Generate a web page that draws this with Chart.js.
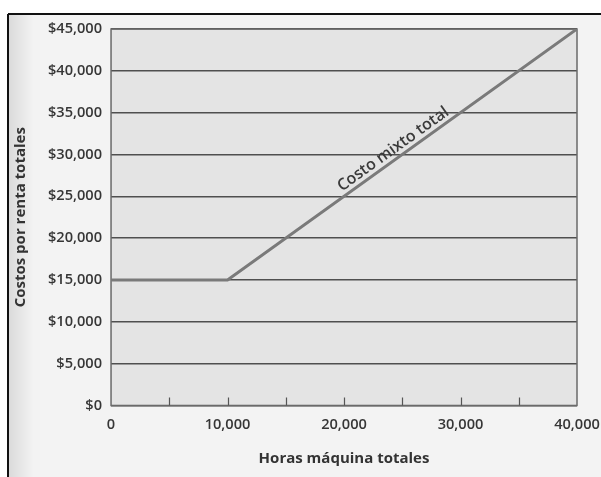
<!DOCTYPE html>
<html>
<head>
<meta charset="utf-8">
<script src="https://cdn.jsdelivr.net/npm/chart.js@4/dist/chart.umd.min.js"></script>
<style>
  html, body { margin: 0; padding: 0; background: #fff; }
  #wrap { position: absolute; left: 0; top: 0; width: 601px; height: 477px; }
</style>
</head>
<body>
<div id="wrap"><canvas id="grafica" width="601" height="477"></canvas></div>
<script>
// Costo mixto: fijo hasta 10,000 horas, luego crece con las horas máquina
const horasMaquina = [0, 10000, 40000];
const costoMixto = [15000, 15000, 45000];
const nombreSerie = 'Costo mixto total';
const tituloX = 'Horas máquina totales';
const tituloY = 'Costos por renta totales';
const etiquetasX = [0, 10000, 20000, 30000, 40000];

const fmt = v => v.toLocaleString('en-US');

// Fondo de la figura, marco y área del gráfico
const fondo = {
  id: 'fondo',
  beforeDraw(chart) {
    const { ctx, width, height, chartArea: a } = chart;
    ctx.save();
    ctx.fillStyle = '#ffffff';
    ctx.fillRect(0, 0, width, height);
    ctx.fillStyle = '#f3f3f3';
    ctx.fillRect(8, 14, width - 8, height - 14);
    const g = ctx.createLinearGradient(9, 0, 34, 0);
    g.addColorStop(0, 'rgba(0,0,0,0.10)');
    g.addColorStop(1, 'rgba(0,0,0,0)');
    ctx.fillStyle = g;
    ctx.fillRect(9, 15, 25, height - 15);
    ctx.strokeStyle = '#111';
    ctx.lineWidth = 2;
    ctx.beginPath();
    ctx.moveTo(8, 14); ctx.lineTo(width, 14);
    ctx.moveTo(8, 14); ctx.lineTo(8, height);
    ctx.stroke();
    ctx.fillStyle = '#e4e4e4';
    ctx.fillRect(a.left, a.top, a.right - a.left, a.bottom - a.top);
    ctx.restore();
  },
  beforeDatasetsDraw(chart) {
    const { ctx, chartArea: a, scales: { x } } = chart;
    ctx.save();
    ctx.strokeStyle = '#6a6a6a';
    ctx.lineWidth = 1.5;
    ctx.strokeRect(a.left, a.top, a.right - a.left, a.bottom - a.top);
    // marcas cortas hacia adentro cada 5,000 horas
    ctx.strokeStyle = '#555';
    ctx.lineWidth = 1.2;
    ctx.beginPath();
    x.ticks.forEach(t => {
      if (t.value <= x.min || t.value >= x.max) return;
      const px = Math.round(x.getPixelForValue(t.value)) + 0.5;
      ctx.moveTo(px, a.bottom);
      ctx.lineTo(px, a.bottom - 8);
    });
    ctx.stroke();
    ctx.restore();
  },
  afterDatasetsDraw(chart) {
    const { ctx, scales: { x, y } } = chart;
    const x0 = x.getPixelForValue(horasMaquina[1]), y0 = y.getPixelForValue(costoMixto[1]);
    const x1 = x.getPixelForValue(horasMaquina[2]), y1 = y.getPixelForValue(costoMixto[2]);
    const ang = Math.atan2(y1 - y0, x1 - x0);
    const t = 0.49;
    const cx = x0 + (x1 - x0) * t, cy = y0 + (y1 - y0) * t;
    ctx.save();
    ctx.translate(cx, cy);
    ctx.rotate(ang);
    ctx.font = '600 16px "Open Sans"';
    ctx.fillStyle = '#3a3a3a';
    ctx.textAlign = 'center';
    ctx.textBaseline = 'alphabetic';
    ctx.fillText(nombreSerie, 0, -5);
    ctx.restore();
  }
};

new Chart(document.getElementById('grafica'), {
  type: 'line',
  data: {
    datasets: [{
      label: nombreSerie,
      data: horasMaquina.map((h, i) => ({ x: h, y: costoMixto[i] })),
      borderColor: '#7a7a7a',
      borderWidth: 3,
      pointRadius: 0,
      tension: 0,
      fill: false
    }]
  },
  options: {
    responsive: false,
    animation: false,
    devicePixelRatio: 1,
    layout: { padding: { left: 12, top: 29, right: 24, bottom: 9 } },
    plugins: { legend: { display: false }, tooltip: { enabled: false } },
    scales: {
      x: {
        type: 'linear',
        min: 0, max: 40000,
        afterFit: s => { s.paddingRight = 0; },
        ticks: {
          stepSize: 5000,
          autoSkip: false,
          maxRotation: 0,
          padding: 11,
          color: '#363636',
          font: { family: 'Open Sans', size: 14.6, weight: '600' },
          callback: v => etiquetasX.includes(v) ? fmt(v) : ''
        },
        grid: { display: false, drawTicks: false },
        border: { display: false },
        title: {
          display: true, text: tituloX, color: '#333',
          font: { family: 'Open Sans', size: 15, weight: '700' },
          padding: { top: 5, bottom: 0 }
        }
      },
      y: {
        min: 0, max: 45000,
        ticks: {
          stepSize: 5000,
          padding: 9,
          color: '#363636',
          font: { family: 'Open Sans', size: 14.6, weight: '600' },
          callback: v => '$' + fmt(v)
        },
        grid: { color: '#4f4f4f', lineWidth: 1.4, drawTicks: false },
        border: { display: false },
        title: {
          display: true, text: tituloY, color: '#333',
          font: { family: 'Open Sans', size: 15, weight: '700' },
          padding: { top: 0, bottom: 9 }
        }
      }
    }
  },
  plugins: [fondo]
});
</script>
</body>
</html>
